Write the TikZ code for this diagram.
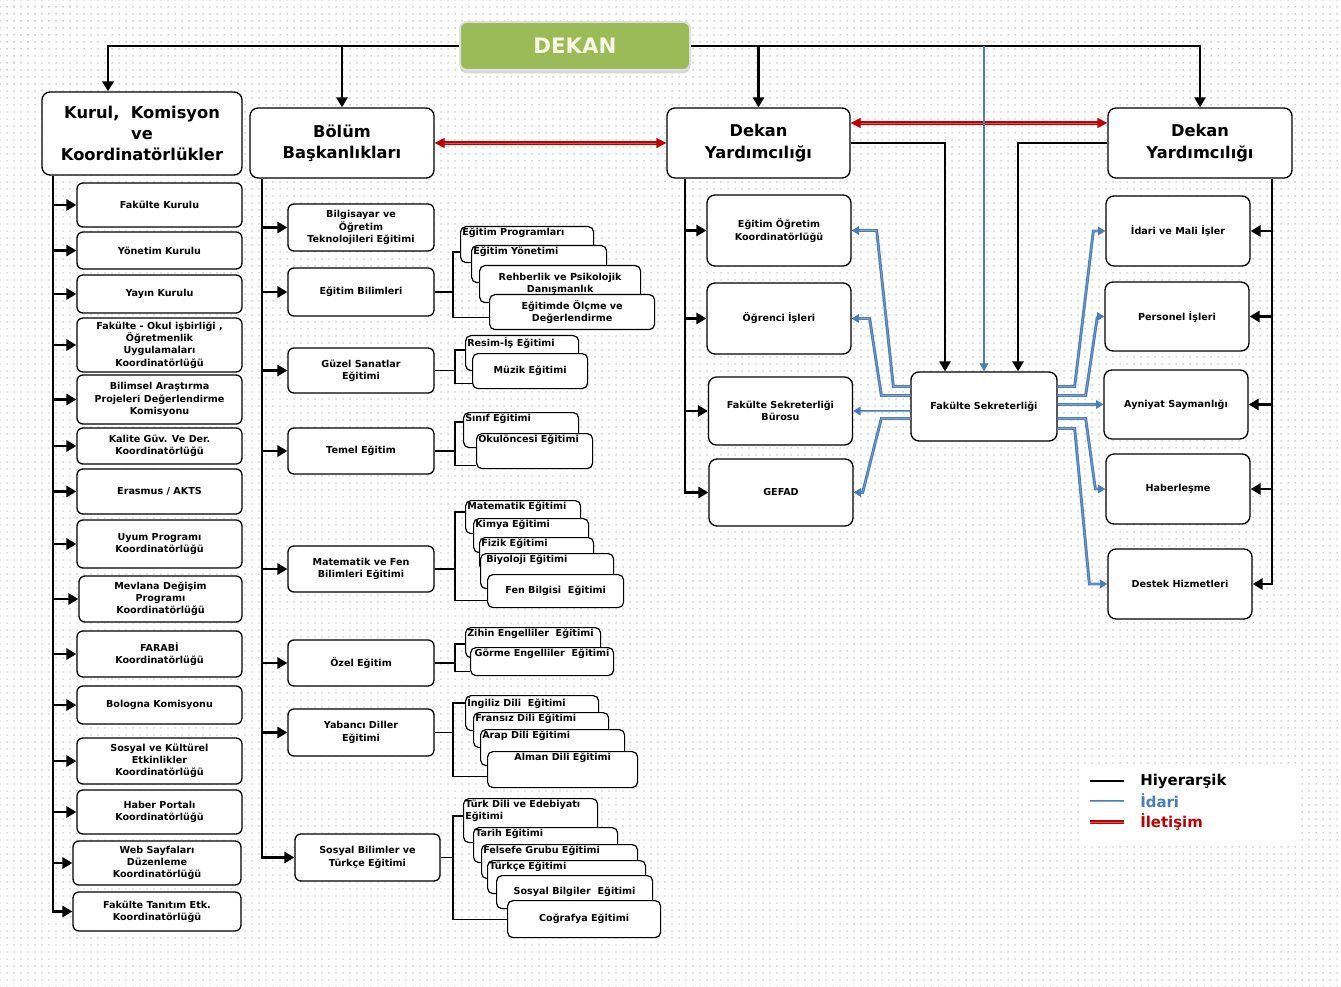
\documentclass[tikz,border=0pt]{standalone}
\usepackage{fontspec}
\setmainfont{DejaVu Sans}
\usepackage{tikz}
\usetikzlibrary{positioning,calc,arrows.meta,patterns,shadows}

\definecolor{dekangreen}{RGB}{155,187,89}
\definecolor{dekantext}{RGB}{245,247,225}
\definecolor{idariblue}{RGB}{74,126,187}
\definecolor{commred}{RGB}{192,0,0}

\pgfdeclarepatternformonly{bgdots}{\pgfqpoint{-1pt}{-1pt}}{\pgfqpoint{1pt}{1pt}}{\pgfqpoint{5.25pt}{5.25pt}}{%
  \pgfpathcircle{\pgfqpoint{0pt}{0pt}}{0.55pt}\pgfusepath{fill}}

\begin{document}
\begin{tikzpicture}[
    x=0.75pt, y=-0.75pt,
    box/.style={draw, fill=white, rounded corners=4.5pt, line width=1pt, align=center, inner sep=1pt,
        font=\bfseries\fontsize{7.2}{9.2}\selectfont},
    head/.style={box, rounded corners=6pt, minimum width=138pt, minimum height=52.5pt,
        font=\bfseries\fontsize{12.2}{16}\selectfont},
    kbox/.style={box, minimum width=123.75pt, minimum height=#1},
    bbox/.style={box, minimum width=109.5pt, minimum height=#1},
    rbox/.style={box, rounded corners=6pt, minimum width=108pt, minimum height=#1},
    casc/.style args={#1/#2}{draw, fill=white, rounded corners=4pt, line width=0.9pt, anchor=north west,
        inner sep=1pt, align=center, minimum width=#1, minimum height=#2,
        font=\bfseries\fontsize{7.2}{9.2}\selectfont},
    ctext/.style={inner sep=1.5pt, align=left, font=\bfseries\fontsize{7.2}{8.8}\selectfont},
    hier/.style={line width=1.6pt, -{Triangle[width=8.5pt,length=7.5pt]}},
    tree/.style={line width=0.8pt},
    admin/.style={draw=idariblue, double=idariblue!70!white, double distance=0.4pt, line width=0.9pt,
        -{Triangle[width=6.5pt,length=5.5pt]}},
    thinadmin/.style={draw=idariblue, line width=0.9pt, -{Triangle[width=6.5pt,length=6pt]}},
    comm/.style={draw=commred, double=commred!65!white, double distance=0.5pt, line width=1pt,
        {Triangle[width=7.5pt,length=7.5pt]}-{Triangle[width=7.5pt,length=7.5pt]}},
    legtext/.style={anchor=west, inner sep=0pt, font=\bfseries\fontsize{11.2}{13}\selectfont}
]
    % background
    \fill[white] (0,0) rectangle (1341,987);
    \fill[pattern=bgdots, pattern color=gray!85] (0,0) rectangle (1341,987);
    \useasboundingbox (0,0) rectangle (1341,987);

    % top level
    \node[box, rounded corners=5pt, minimum width=172.5pt, minimum height=36pt, fill=dekangreen,
        draw=gray!25, line width=1.5pt, text=dekantext, font=\bfseries\fontsize{16}{20}\selectfont,
        drop shadow={shadow xshift=0pt, shadow yshift=-2.5pt, opacity=.3}] (dekan) at (575,46) {DEKAN};
    \node[head, minimum width=150pt, minimum height=62.25pt] (kurul) at (142,133.5) {Kurul,\ \ Komisyon\\ve\\Koordinatörlükler};
    \node[head] (bolum) at (342,143) {Bölüm\\Başkanlıkları};
    \node[head, minimum width=137.25pt] (dyl) at (758.5,143) {Dekan\\Yardımcılığı};
    \node[head] (dyr) at (1200,143) {Dekan\\Yardımcılığı};

    % kurul, komisyon ve koordinatorlukler
    \node[kbox=33pt] (fk) at (159.5,205) {Fakülte Kurulu};
    \node[kbox=27.75pt] (yk) at (159.5,250.5) {Yönetim Kurulu};
    \node[kbox=28.5pt] (yay) at (159.5,294) {Yayın Kurulu};
    \node[kbox=40.5pt] (fo) at (159.5,345) {Fakülte - Okul işbirliği ,\\Öğretmenlik\\Uygulamaları\\Koordinatörlüğü};
    \node[kbox=36.75pt] (bap) at (159.5,399.5) {Bilimsel Araştırma\\Projeleri Değerlendirme\\Komisyonu};
    \node[kbox=27pt] (kal) at (159.5,446) {Kalite Güv. Ve Der.\\Koordinatörlüğü};
    \node[kbox=33.75pt] (era) at (159.5,491.5) {Erasmus / AKTS};
    \node[kbox=36pt] (uyum) at (159.5,544) {Uyum Programı\\Koordinatörlüğü};
    \node[kbox=34.5pt, minimum width=122.25pt] (mev) at (160.5,599) {Mevlana Değişim\\Programı\\Koordinatörlüğü};
    \node[kbox=34.5pt] (far) at (159.5,654) {FARABİ\\Koordinatörlüğü};
    \node[kbox=28.5pt] (bol) at (159.5,705) {Bologna Komisyonu};
    \node[kbox=34.5pt] (sos) at (159.5,761) {Sosyal ve Kültürel\\Etkinlikler\\Koordinatörlüğü};
    \node[kbox=33pt] (hab) at (159.5,812) {Haber Portalı\\Koordinatörlüğü};
    \node[kbox=33pt, minimum width=126pt] (web) at (157,863) {Web Sayfaları\\Düzenleme\\Koordinatörlüğü};
    \node[kbox=29.25pt, minimum width=126pt] (tan) at (157,911.5) {Fakülte Tanıtım Etk.\\Koordinatörlüğü};

    % bolum baskanliklari
    \node[bbox=35.25pt] (bote) at (361,227.5) {Bilgisayar ve\\Öğretim\\Teknolojileri Eğitimi};
    \node[bbox=36pt] (ebil) at (361,292) {Eğitim Bilimleri};
    \node[bbox=33.75pt] (guz) at (361,370.5) {Güzel Sanatlar\\Eğitimi};
    \node[bbox=34.5pt] (tem) at (361,451) {Temel Eğitim};
    \node[bbox=34.5pt] (mat) at (361,569) {Matematik ve Fen\\Bilimleri Eğitimi};
    \node[bbox=34.5pt] (ozel) at (361,663) {Özel Eğitim};
    \node[bbox=35.25pt] (yab) at (361,732.5) {Yabancı Diller\\Eğitimi};
    \node[bbox=35.25pt, minimum width=108.75pt] (sbt) at (367.5,857.5) {Sosyal Bilimler ve\\Türkçe Eğitimi};

    % anabilim dallari
    \node[casc=99.75pt/27pt, label={[ctext, anchor=north west]north west:Eğitim Programları}] (ep) at (460,226) {};
    \node[casc=101.25pt/27.75pt, label={[ctext, anchor=north west]north west:Eğitim Yönetimi}] (ey) at (471,245) {};
    \node[casc=120.75pt/27.75pt] (rpd) at (479,265) {Rehberlik ve Psikolojik\\Danışmanlık};
    \node[casc=123.75pt/26.25pt] (eod) at (489,294) {Eğitimde Ölçme ve\\Değerlendirme};

    \node[casc=84.75pt/26.25pt, label={[ctext, anchor=north west]north west:Resim-İş Eğitimi}] (ri) at (465,335) {};
    \node[casc=86.25pt/26.25pt] (muz) at (472,353) {Müzik Eğitimi};

    \node[casc=86.25pt/26.25pt, label={[ctext, anchor=north west]north west:Sınıf Eğitimi}] (sin) at (463,412) {};
    \node[casc=87pt/26.25pt, label={[ctext, anchor=north west]north west:Okulöncesi Eğitimi}] (okul) at (476,433) {};

    \node[casc=86.25pt/24.75pt, label={[ctext, anchor=north west]north west:Matematik Eğitimi}] (me) at (465,500) {};
    \node[casc=86.25pt/25.5pt, label={[ctext, anchor=north west]north west:Kimya Eğitimi}] (kim) at (473,518) {};
    \node[casc=85.5pt/24.75pt, label={[ctext, anchor=north west]north west:Fizik Eğitimi}] (fiz) at (479,537) {};
    \node[casc=99.75pt/26.25pt, label={[ctext, anchor=north west, xshift=3pt]north west:Biyoloji Eğitimi}] (biy) at (480,553) {};
    \node[casc=102pt/24.75pt] (fen) at (487,574) {Fen Bilgisi\ \ Eğitimi};

    \node[casc=101.25pt/22.5pt, label={[ctext, anchor=north west]north west:Zihin Engelliler\ \ Eğitimi}] (zih) at (465,627) {};
    \node[casc=107.25pt/21pt, label={[ctext, anchor=north]north:Görme Engelliler\ \ Eğitimi}] (gor) at (470,647) {};

    \node[casc=99.75pt/26.25pt, label={[ctext, anchor=north west]north west:İngiliz Dili\ \ Eğitimi}] (ing) at (465,695) {};
    \node[casc=101.25pt/26.25pt, label={[ctext, anchor=north west]north west:Fransız Dili Eğitimi}] (fra) at (473,712) {};
    \node[casc=108pt/27pt, label={[ctext, anchor=north west]north west:Arap Dili Eğitimi}] (arap) at (480,729) {};
    \node[casc=112.5pt/27pt, label={[ctext, anchor=north]north:Alman Dili Eğitimi}] (alm) at (487,751) {};

    \node[casc=100.5pt/33pt, label={[ctext, anchor=north west]north west:{Türk Dili ve Edebiyatı\\Eğitimi}}] (tde) at (463,798) {};
    \node[casc=108pt/26.25pt, label={[ctext, anchor=north west]north west:Tarih Eğitimi}] (tar) at (473,827) {};
    \node[casc=117pt/25.5pt, label={[ctext, anchor=north west]north west:Felsefe Grubu Eğitimi}] (fel) at (481,844) {};
    \node[casc=118.5pt/24.75pt, label={[ctext, anchor=north west]north west:Türkçe Eğitimi}] (tur) at (487,860) {};
    \node[casc=117pt/24.75pt] (sbg) at (496,875) {Sosyal Bilgiler\ \ Eğitimi};
    \node[casc=114.75pt/27.75pt] (cog) at (507,900) {Coğrafya Eğitimi};

    % dekan yardimciligi (sol)
    \node[rbox=53.25pt] (eok) at (779,230.5) {Eğitim Öğretim\\Koordinatörlüğü};
    \node[rbox=53.25pt] (ogr) at (779,318.5) {Öğrenci İşleri};
    \node[rbox=51pt] (fsb) at (780.5,411) {Fakülte Sekreterliği\\Bürosu};
    \node[rbox=50.25pt] (gefad) at (781,492.5) {GEFAD};
    \node[rbox=51.75pt, minimum width=109.5pt] (fs) at (984,406.5) {Fakülte Sekreterliği};

    % dekan yardimciligi (sag)
    \node[rbox=52.5pt] (idari) at (1178,231) {İdari ve Mali İşler};
    \node[rbox=51.75pt] (pers) at (1177,316.5) {Personel İşleri};
    \node[rbox=51.75pt] (ayn) at (1176,404.5) {Ayniyat Saymanlığı};
    \node[rbox=52.5pt] (haber) at (1178,489) {Haberleşme};
    \node[rbox=52.5pt] (destek) at (1180,584) {Destek Hizmetleri};

    % spines
    \coordinate (kspine) at (53,0);
    \coordinate (bspine) at (262,0);
    \coordinate (lspine) at (685,0);
    \coordinate (rspine) at (1272,0);
    \coordinate (kin) at (108,0);

    % hierarchy
    \draw[hier] (dekan.west) -| (kin |- kurul.north);
    \draw[hier] (dekan.east) -| (dyr.north);
    \draw[hier] (bolum.north |- dekan.west) -- (bolum.north);
    \draw[hier] (dyl.north |- dekan.east) -- (dyl.north);

    \draw[hier] (kurul.south -| kspine) |- (tan.west);
    \foreach \n in {fk,yk,yay,fo,bap,kal,era,uyum,mev,far,bol,sos,hab,web}
        \draw[hier] (\n.west -| kspine) -- (\n.west);

    \draw[hier] (bolum.south -| bspine) |- (sbt.west);
    \foreach \n in {bote,ebil,guz,tem,mat,ozel,yab}
        \draw[hier] (\n.west -| bspine) -- (\n.west);

    \draw[hier] (dyl.south -| lspine) |- (gefad.west);
    \foreach \n in {eok,ogr,fsb}
        \draw[hier] (\n.west -| lspine) -- (\n.west);

    \draw[hier] (dyr.south -| rspine) |- (destek.east);
    \foreach \n in {idari,pers,ayn,haber}
        \draw[hier] (\n.east -| rspine) -- (\n.east);

    \draw[hier] (dyl.east) -| ($(fs.north)+(-39,0)$);
    \draw[hier] (dyr.west) -| ($(fs.north)+(34,0)$);

    % brackets
    \draw[tree] (ebil.east) -- ++(19,0);
    \draw[tree] ($(ep.north west)+(0,26)$) -- ++(-7,0) |- ($(eod.south west)+(0,-13)$);
    \draw[tree] (guz.east) -- ++(21,0);
    \draw[tree] ($(ri.north west)+(0,15)$) -- ++(-10,0) |- ($(muz.south west)+(0,-6)$);
    \draw[tree] (tem.east) -- ++(21,0);
    \draw[tree] ($(sin.north west)+(0,10)$) -- ++(-8,0) |- ($(okul.south west)+(0,-4)$);
    \draw[tree] (mat.east) -- ++(21,0);
    \draw[tree] ($(me.north west)+(0,12)$) -- ++(-10,0) |- ($(fen.south west)+(0,-8)$);
    \draw[tree] (ozel.east) -- ++(21,0);
    \draw[tree] ($(zih.north west)+(0,17)$) -- ++(-10,0) |- ($(gor.south west)+(0,-5)$);
    \draw[tree] (yab.east) -- ++(19,0);
    \draw[tree] ($(ing.north west)+(0,8)$) -- ++(-12,0) |- ($(alm.south west)+(0,-12)$);
    \draw[tree] (sbt.east) -- ++(13,0);
    \draw[tree] ($(tde.north west)+(0,18)$) -- ++(-10,0) |- ($(cog.south west)+(0,-19)$);

    % communication
    \draw[comm] (bolum.east) -- (dyl.west);
    \draw[comm] ($(dyl.east)+(0,-20)$) -- ($(dyr.west)+(0,-20)$);

    % administration
    \draw[thinadmin] (fs.north |- dekan.east) -- (fs.north);
    \draw[admin] ($(fs.west)+(0,-20)$) -- ++(-17,0) -- ($(eok.east)+(25,0)$) -- (eok.east);
    \draw[admin] ($(fs.west)+(0,-11)$) -- ++(-29,0) -- ($(ogr.east)+(18,0)$) -- (ogr.east);
    \draw[admin] (fsb.east -| fs.west) -- (fsb.east);
    \draw[admin] ($(fs.west)+(0,12)$) -- ++(-29,0) -- ($(gefad.east)+(9,0)$) -- (gefad.east);
    \draw[admin] ($(fs.east)+(0,-20)$) -- ++(17,0) -- ($(idari.west)+(-12,0)$) -- (idari.west);
    \draw[admin] ($(fs.east)+(0,-11)$) -- ++(28,0) -- ($(pers.west)+(-7,0)$) -- (pers.west);
    \draw[admin] (ayn.west -| fs.east) -- (ayn.west);
    \draw[admin] ($(fs.east)+(0,12)$) -- ++(28,0) -- ($(haber.west)+(-10,0)$) -- (haber.west);
    \draw[admin] ($(fs.east)+(0,22)$) -- ++(17,0) -- ($(destek.west)+(-18,0)$) -- (destek.west);

    % legend
    \fill[white] (1083,768) rectangle (1300,842);
    \node[legtext] (lh) at (1140,781) {Hiyerarşik};
    \node[legtext, text=idariblue] (li) at (1140,801) {İdari};
    \node[legtext, text=commred] (ll) at (1140,822) {İletişim};
    \draw[line width=2pt] ($(lh.west)+(-50,0)$) -- ++(34,0);
    \draw[admin, -] ($(li.west)+(-50,0)$) -- ++(34,0);
    \draw[comm, -] ($(ll.west)+(-50,0)$) -- ++(34,0);
\end{tikzpicture}
\end{document}
